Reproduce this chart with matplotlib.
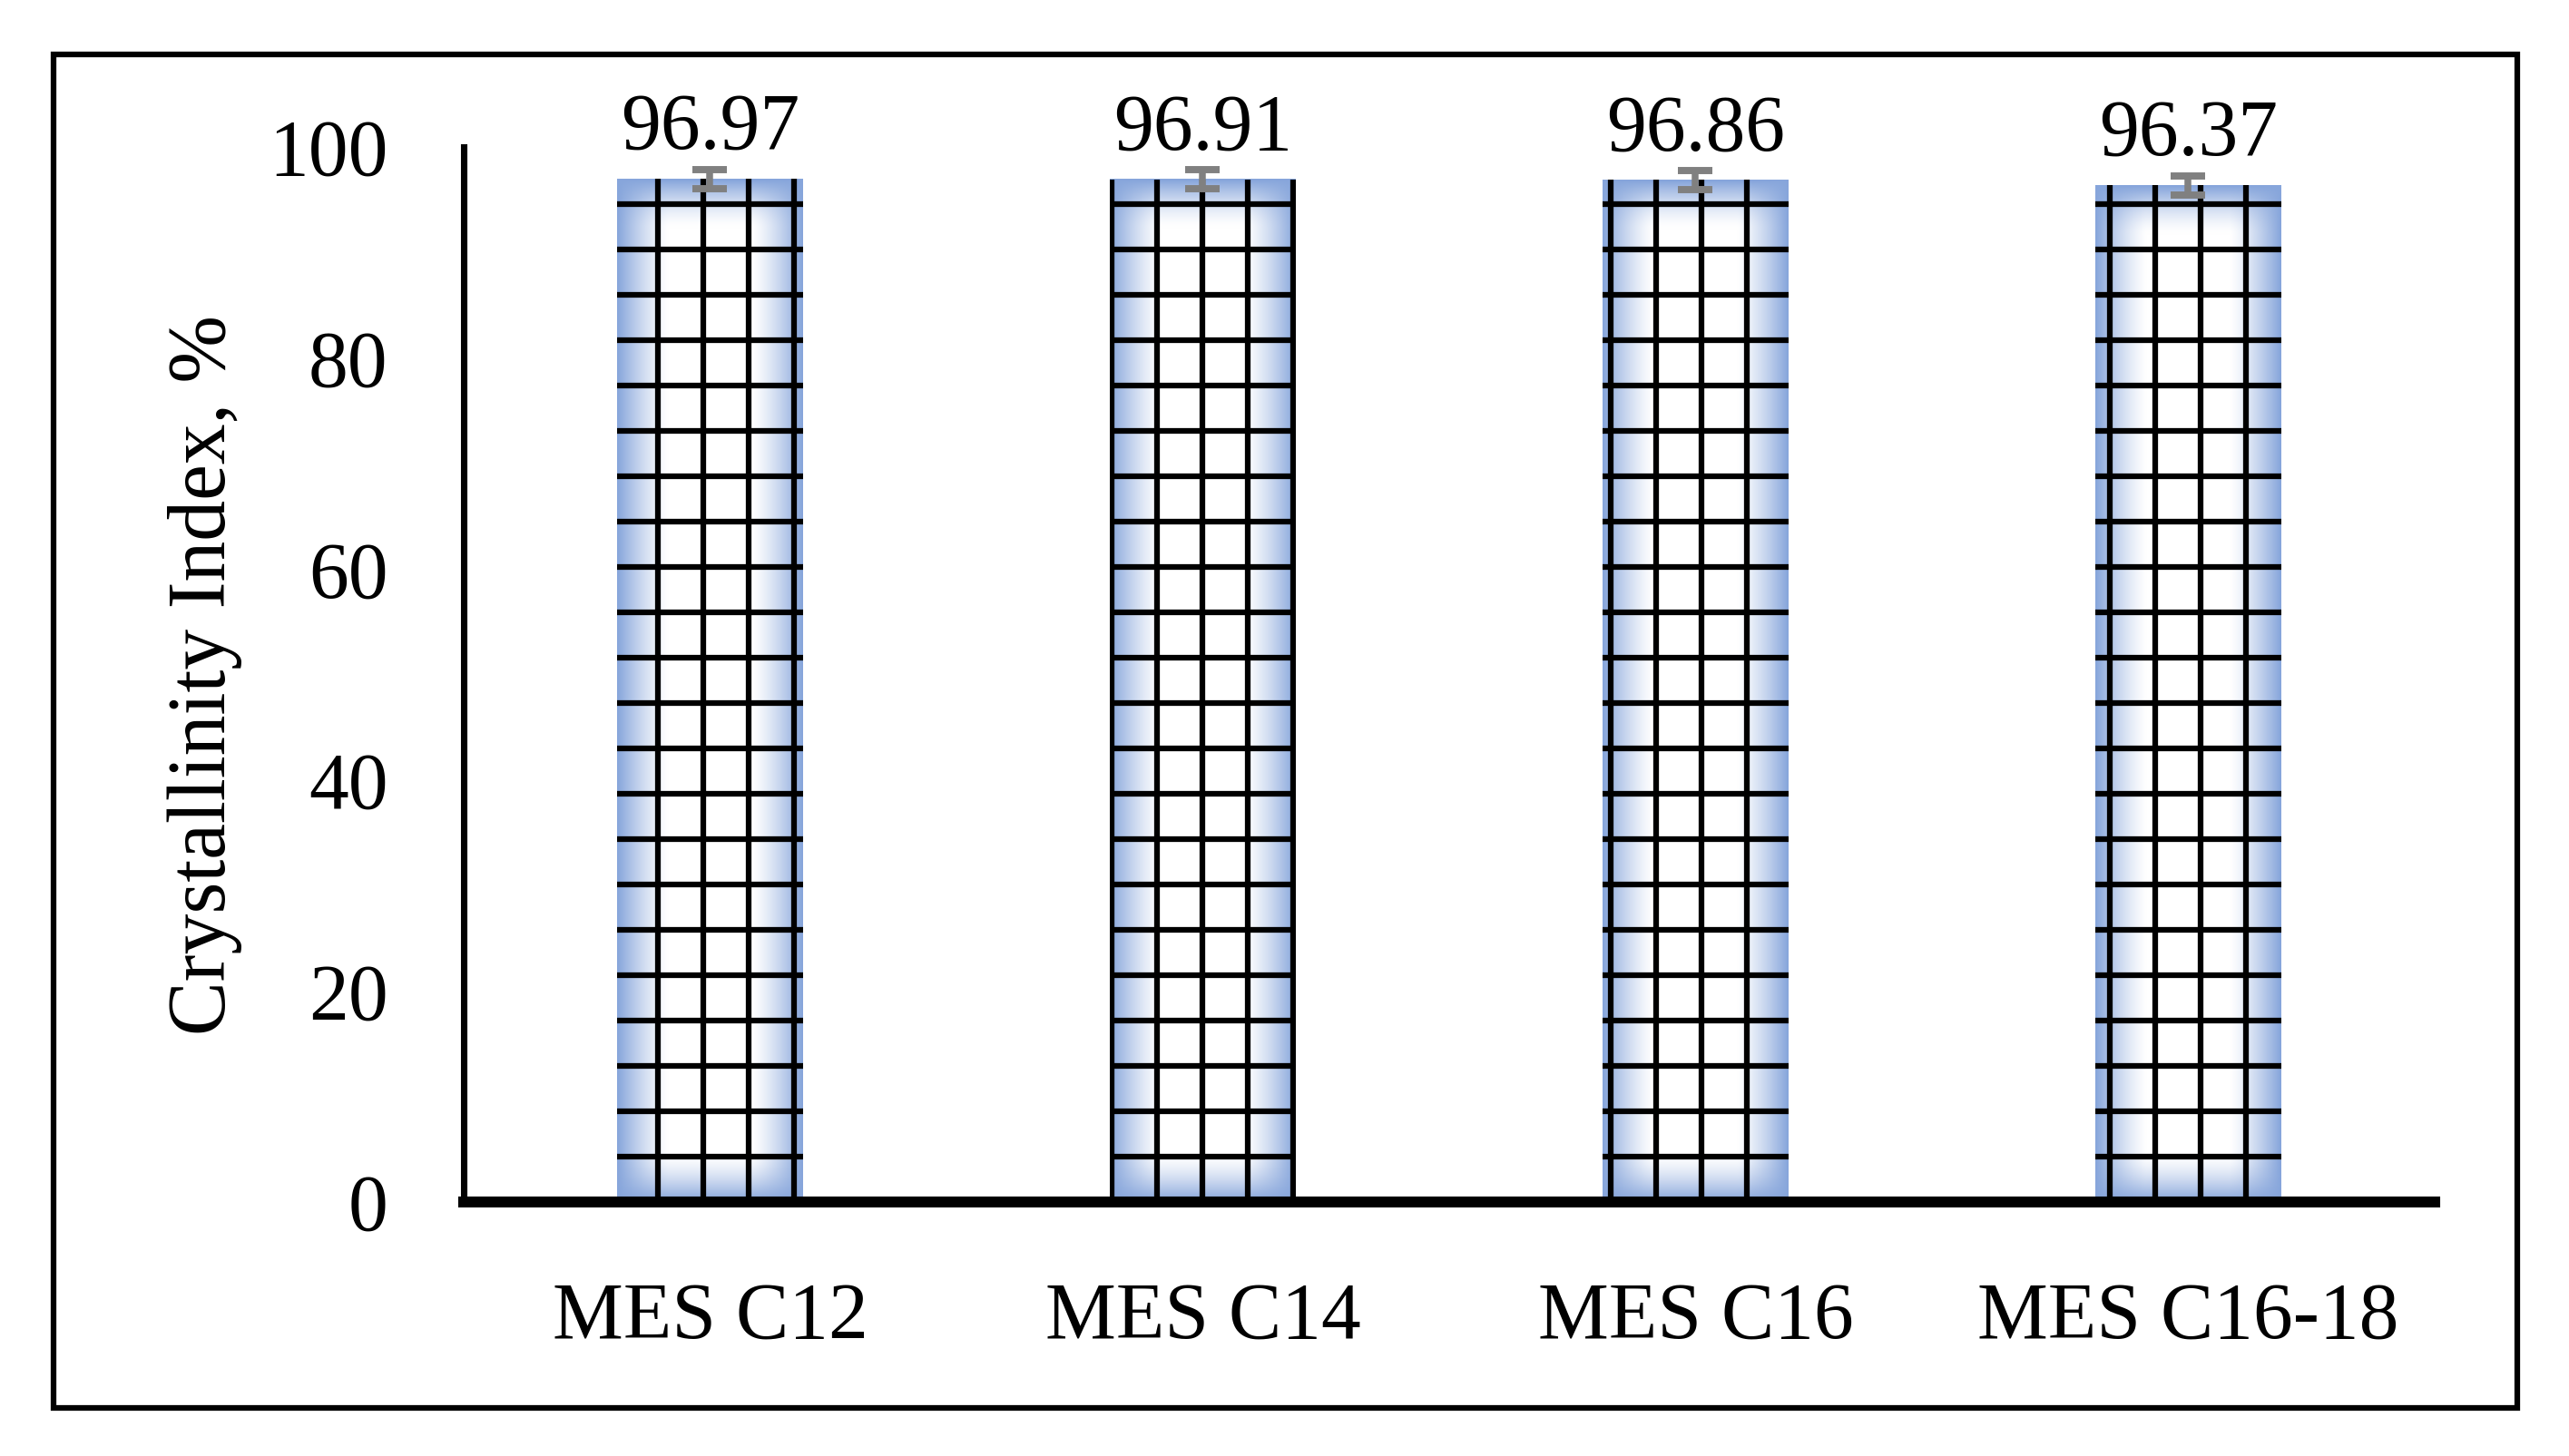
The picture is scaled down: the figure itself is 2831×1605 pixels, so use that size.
import numpy as np
import matplotlib
matplotlib.use("Agg")
import matplotlib.pyplot as plt
from matplotlib.patches import Rectangle

# data
samples = ["MES C12", "MES C14", "MES C16", "MES C16-18"]
crystallinity = [96.97, 96.91, 96.86, 96.37]
errors = [0.9, 0.9, 0.9, 0.9]
yticks = [0, 20, 40, 60, 80, 100]

plt.rcParams["font.family"] = ["Liberation Serif", "DejaVu Serif"]
plt.rcParams["hatch.color"] = "black"
plt.rcParams["hatch.linewidth"] = 1.5

edge_blue = np.array([0.53, 0.65, 0.86])
bar_width = 0.376


def gradient_image(height):
    # white in the middle, blue towards the bar edges
    ny, nx = 400, 120
    xs = np.linspace(-1, 1, nx)
    ys = np.linspace(0, height, ny)
    X, Y = np.meshgrid(xs, ys)
    ax_ = np.clip((np.abs(X) - 0.45) / 0.55, 0, 1) ** 1.3
    d = np.minimum(Y, height - Y)
    ay_ = np.clip(1 - d / 4.5, 0, 1) ** 1.5
    a = 1 - (1 - ax_) * (1 - ay_)
    img = np.ones((ny, nx, 3)) * (1 - a[..., None]) + edge_blue * a[..., None]
    return img


fig = plt.figure(figsize=(2831 / 300, 1605 / 300), dpi=300)
ax = fig.add_axes([0.1805, 0.1745, 0.7672, 0.7246])

x = np.arange(len(samples))
for xi, v in zip(x, crystallinity):
    ax.imshow(gradient_image(v), extent=(xi - bar_width / 2, xi + bar_width / 2, 0, v),
              origin="lower", aspect="auto", interpolation="bilinear", zorder=1)

ax.bar(x, crystallinity, width=bar_width, facecolor="none", edgecolor="black",
       linewidth=0, hatch="+", zorder=2)
ax.errorbar(x, crystallinity, yerr=errors, fmt="none", ecolor="#808080",
            elinewidth=1.8, capsize=4.5, capthick=1.9, zorder=3)

for xi, v in zip(x, crystallinity):
    ax.annotate(f"{v:.2f}", xy=(xi, v), xytext=(0, 8), textcoords="offset points",
                ha="center", va="baseline", fontsize=21)

ax.set_xlim(-0.5, len(samples) - 0.5)
ax.set_ylim(0, 100)
ax.set_yticks(yticks)
ax.set_xticks(x)
ax.set_xticklabels(samples)
ax.tick_params(axis="both", length=0, labelsize=21)
ax.tick_params(axis="y", pad=20)
ax.tick_params(axis="x", pad=21)

for side in ["top", "right"]:
    ax.spines[side].set_visible(False)
ax.spines["left"].set_linewidth(1.7)
ax.spines["bottom"].set_linewidth(2.9)
ax.spines["bottom"].set_zorder(4)

fig.text(0.0798, 0.5364, "Crystallinity Index, %", rotation=90,
         ha="center", va="center", fontsize=21.5)

fig.add_artist(Rectangle((0.0208, 0.033), 0.9592, 0.9296, transform=fig.transFigure,
                         fill=False, linewidth=1.5, edgecolor="black"))

fig.savefig("out.png", dpi=300)
